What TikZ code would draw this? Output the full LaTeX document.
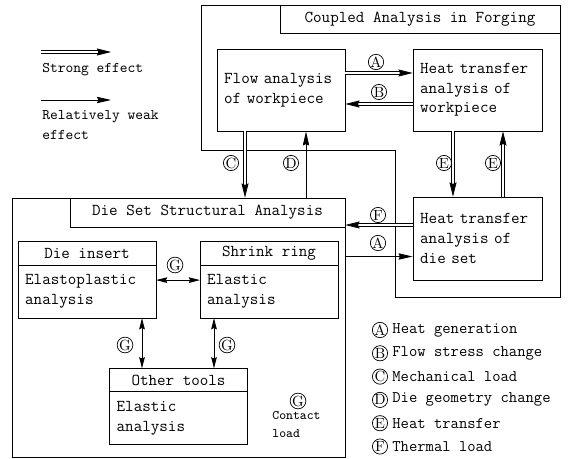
\documentclass[tikz,border=0pt]{standalone}
\usepackage{tikz}
\usetikzlibrary{arrows.meta,calc,positioning}

\tikzset{
  txt/.style={font=\fontsize{11.8}{14}\selectfont\ttfamily},
  box/.style={draw, txt, align=left, inner xsep=0.18cm, inner ysep=0pt},
  head/.style={draw, txt, minimum width=3.45cm, minimum height=0.58cm, inner sep=0pt, outer sep=0pt},
  body/.style={box, text width=3.09cm, minimum height=1.325cm, outer sep=0pt},
  lbl/.style={circle, draw, line width=0.5pt, inner sep=0pt, minimum size=0.38cm, font=\fontsize{10.5}{10}\selectfont},
  strong/.style={double, double distance=1.3pt, line width=0.5pt, -{Stealth[length=10pt,width=5pt,inset=1pt]}},
  weak/.style={line width=0.6pt, -{Stealth[length=10pt,width=4.5pt,inset=1pt]}},
  contact/.style={line width=0.6pt, {Stealth[length=8pt,width=4pt,inset=1pt]}-{Stealth[length=8pt,width=4pt,inset=1pt]}},
}

\begin{document}
\begin{tikzpicture}[x=0.025cm, y=-0.025cm, line width=0.6pt]
\useasboundingbox (0,0) rectangle (572,459);

% kinds of effect
\coordinate (s0) at (41,52);
\coordinate (s1) at (111,52);
\draw[strong] (s0) -- (s1);
\node[anchor=west, font=\fontsize{10.5}{13}\selectfont\ttfamily, inner sep=0pt] (strongtxt) at (42,70) {Strong effect};
\coordinate (w0) at (41,100);
\coordinate (w1) at (111,100);
\draw[weak] (w0) -- (w1);
\node[anchor=north west, align=left, font=\fontsize{10.5}{14}\selectfont\ttfamily, inner sep=0pt] (weaktxt) at (42,110) {Relatively weak\\effect};

% coupled analysis
\draw (201,5) -- (560,5) -- (560,297) -- (395,297) -- (395,150) -- (201,150) -- cycle;
\node[draw, txt, minimum width=7cm, minimum height=0.7cm] (cpltitle) at (420,19) {Coupled Analysis in Forging};
\node[box, text width=2.84cm, minimum height=2.05cm] (flow) at (281,90) {Flow analysis\\of workpiece};
\node[box, text width=2.865cm, minimum height=2.05cm] (heatwp) at (477.5,90) {Heat transfer\\analysis of\\workpiece};
\node[box, text width=2.865cm, minimum height=2.075cm] (heatds) at (477.5,238.5) {Heat transfer\\analysis of\\die set};

% die set
\node[draw, minimum width=8.325cm, minimum height=6.475cm] (dieframe) at (178.5,327.5) {};
\node[draw, txt, minimum width=6.875cm, minimum height=0.725cm] (dstitle) at (207.5,212.5) {Die Set Structural Analysis};
\node[head] (inserth) at (87,253.5) {Die insert};
\node[body, below=0pt of inserth] (insert) {Elastoplastic\\analysis};
\node[head] (shrinkh) at (269,253.5) {Shrink ring};
\node[body, below=0pt of shrinkh] (shrink) {Elastic\\analysis};
\node[head] (otherh) at (178.5,380) {Other tools};
\node[body, below=0pt of otherh] (other) {Elastic\\analysis};

% effects
\draw[strong] ($(flow.east)+(0,-17)$) -- ($(heatwp.west)+(0,-17)$);
\draw[strong] ($(heatwp.west)+(0,14)$) -- ($(flow.east)+(0,14)$);
\coordinate (c0) at ($(flow.south)+(-36,0)$);
\draw[strong] (c0) -- (c0 |- dstitle.north);
\coordinate (d0) at ($(flow.south)+(25,0)$);
\draw[weak] (d0 |- dstitle.north) -- (d0);
\coordinate (e0) at ($(heatwp.south)+(-24.5,0)$);
\draw[strong] (e0) -- (e0 |- heatds.north);
\coordinate (e1) at ($(heatwp.south)+(25.5,0)$);
\draw[strong] (e1 |- heatds.north) -- (e1);
\coordinate (f0) at ($(heatds.west)+(0,-13.5)$);
\draw[strong] (f0) -- (f0 -| dieframe.east);
\coordinate (a0) at ($(heatds.west)+(0,18)$);
\draw[weak] (a0 -| dieframe.east) -- (a0);
\coordinate (g0) at ($(insert.east)+(0,-11.5)$);
\draw[contact] (g0) -- (g0 -| shrink.west);
\coordinate (g1) at ($(insert.south)+(55,0)$);
\draw[contact] (g1) -- (g1 |- otherh.north);
\coordinate (g2) at ($(shrink.south)+(-55,0)$);
\draw[contact] (g2) -- (g2 |- otherh.north);

% circled letters
\node[lbl] (la1) at (376,62) {A};
\node[lbl] (lb) at (379,92) {B};
\node[lbl] (lc) at (231,163) {C};
\node[lbl] (ld) at (291,163) {D};
\node[lbl] (le1) at (444,163) {E};
\node[lbl] (le2) at (493,163) {E};
\node[lbl] (lf) at (378,215) {F};
\node[lbl] (la2) at (378,243) {A};
\node[lbl] (lg1) at (175,265) {G};
\node[lbl] (lg2) at (125,345) {G};
\node[lbl] (lg3) at (227,345) {G};
\node[lbl] (lg4) at (298,401) {G};
\node[anchor=north west, align=left, font=\fontsize{9.3}{12.5}\selectfont\ttfamily, inner sep=0pt] (contacttxt) at (272,411) {Contact\\load};

% key
\foreach \l/\t [count=\i] in {A/Heat generation, B/Flow stress change, C/Mechanical load, D/Die geometry change, E/Heat transfer, F/Thermal load}
{
  \node[lbl] (key\i) at (380,{330+23.3*(\i-1)}) {\l};
  \node[font=\fontsize{11.5}{13}\selectfont\ttfamily, right=0.1cm of key\i, inner sep=0pt] (keytxt\i) {\t};
}
\end{tikzpicture}
\end{document}
